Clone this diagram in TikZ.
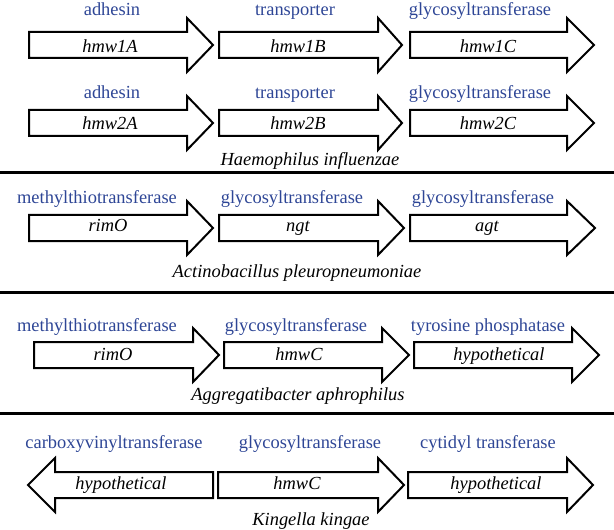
\documentclass[tikz,border=0pt]{standalone}
\usepackage{fontspec}
\setmainfont{Liberation Serif}
\usepackage{xcolor}
\definecolor{protblue}{RGB}{46,70,150}

\tikzset{
	protein/.style={anchor=base,inner sep=0pt,text=protblue,font=\fontsize{18.5}{22}\selectfont},
	gene/.style={anchor=base,inner sep=0pt,font=\fontsize{18.5}{22}\selectfont\itshape},
	species/.style={gene},
	orf/.style={draw,fill=white,line width=2bp,line join=miter},
	divider/.style={line width=3bp}
}
% #1 tail, #2 head base, #3 tip, #4 middle line
\newcommand{\orfarrow}[4]{%
	\draw[orf] (#1,#4-13)--(#2,#4-13)--(#2,#4-27)--(#3,#4)--(#2,#4+27)--(#2,#4+13)--(#1,#4+13)--cycle;}

\begin{document}
\begin{tikzpicture}[x=1bp,y=-1bp]
		\useasboundingbox (0,0) rectangle (614,530);
		% Haemophilus influenzae
		\orfarrow{29}{187}{213}{45}
		\orfarrow{219}{378}{402}{45}
		\orfarrow{410}{567}{594}{45}
		\node[protein](p1a) at (112,16) {adhesin};
		\node[protein](p1b) at (295,16) {transporter};
		\node[protein](p1c) at (480,16) {glycosyltransferase};
		\node[gene](g1a) at (110,53) {hmw1A};
		\node[gene](g1b) at (298,53) {hmw1B};
		\node[gene](g1c) at (488,53) {hmw1C};
		\orfarrow{29}{187}{213}{123}
		\orfarrow{219}{378}{402}{123}
		\orfarrow{410}{567}{594}{123}
		\node[protein](p2a) at (112,99) {adhesin};
		\node[protein](p2b) at (295,99) {transporter};
		\node[protein](p2c) at (480,99) {glycosyltransferase};
		\node[gene](g2a) at (110,130) {hmw2A};
		\node[gene](g2b) at (298,130) {hmw2B};
		\node[gene](g2c) at (488,130) {hmw2C};
		\node[species](hi) at (310,166) {Haemophilus influenzae};
		\draw[divider] (0,173)--(614,173);
		% Actinobacillus pleuropneumoniae
		\orfarrow{29}{187}{213}{228}
		\orfarrow{219}{378}{404}{228}
		\orfarrow{410}{567}{595}{228}
		\node[protein](p3a) at (97,204) {methylthiotransferase};
		\node[protein](p3b) at (292,204) {glycosyltransferase};
		\node[protein](p3c) at (483,204) {glycosyltransferase};
		\node[gene](g3a) at (108,232) {rimO};
		\node[gene](g3b) at (298,232) {ngt};
		\node[gene](g3c) at (487,232) {agt};
		\node[species](ap) at (297,277) {Actinobacillus pleuropneumoniae};
		\draw[divider] (0,292)--(614,292);
		% Aggregatibacter aphrophilus
		\orfarrow{34}{193}{219}{355}
		\orfarrow{224}{382}{409}{355}
		\orfarrow{414}{572}{599}{355}
		\node[protein](p4a) at (97,331) {methylthiotransferase};
		\node[protein](p4b) at (296,331) {glycosyltransferase};
		\node[protein](p4c) at (488,331) {tyrosine phosphatase};
		\node[gene](g4a) at (113,360) {rimO};
		\node[gene](g4b) at (299,360) {hmwC};
		\node[gene](g4c) at (499,360) {hypothetical};
		\node[species](aa) at (298,400) {Aggregatibacter aphrophilus};
		\draw[divider] (0,413)--(614,413);
		% Kingella kingae
		\orfarrow{213}{55}{28}{485}
		\orfarrow{218}{378}{404}{485}
		\orfarrow{408}{567}{593}{485}
		\node[protein](p5a) at (114,448) {carboxyvinyltransferase};
		\node[protein](p5b) at (310,448) {glycosyltransferase};
		\node[protein](p5c) at (488,448) {cytidyl transferase};
		\node[gene](g5a) at (121,489) {hypothetical};
		\node[gene](g5b) at (297,489) {hmwC};
		\node[gene](g5c) at (496,489) {hypothetical};
		\node[species](kk) at (311,525) {Kingella kingae};
	\end{tikzpicture}
\end{document}
